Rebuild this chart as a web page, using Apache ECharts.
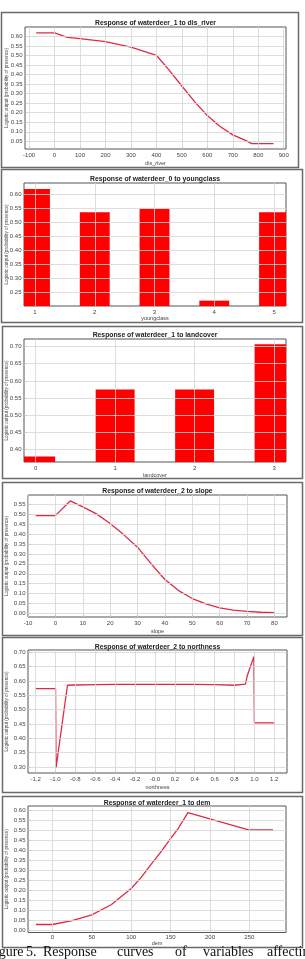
<!DOCTYPE html>
<html><head><meta charset="utf-8">
<script src="https://cdn.jsdelivr.net/npm/echarts@6/dist/echarts.min.js"></script>
<style>html,body{margin:0;padding:0;background:#fff}#c{width:305px;height:959px}</style>
</head><body><div id="c"></div>
<script>
// ---- data ----
const disRiverX = [-72, 0, 50, 100, 200, 300, 400, 450, 500, 550, 600, 650, 700, 750, 775, 860];
const disRiverY = [0.618, 0.618, 0.595, 0.588, 0.572, 0.543, 0.501, 0.423, 0.34, 0.258, 0.185, 0.128, 0.084, 0.055, 0.038, 0.038];
const disRiverTicksX = [-100, 0, 100, 200, 300, 400, 500, 600, 700, 800, 900];
const disRiverTicksY = [0.05, 0.10, 0.15, 0.20, 0.25, 0.30, 0.35, 0.40, 0.45, 0.50, 0.55, 0.60];

const youngclassX = [1, 2, 3, 4, 5];
const youngclassY = [0.618, 0.535, 0.548, 0.222, 0.535];
const youngclassTicksY = [0.25, 0.30, 0.35, 0.40, 0.45, 0.50, 0.55, 0.60];

const landcoverX = [0, 1, 2, 3];
const landcoverY = [0.380, 0.575, 0.575, 0.707];
const landcoverTicksY = [0.40, 0.45, 0.50, 0.55, 0.60, 0.65, 0.70];

const slopeX = [-7.2, 0, 5.4, 10, 15, 20, 25, 30, 35, 40, 45, 50, 55, 60, 65, 70, 75, 80];
const slopeY = [0.493, 0.493, 0.567, 0.537, 0.502, 0.453, 0.396, 0.334, 0.25, 0.171, 0.115, 0.075, 0.048, 0.028, 0.017, 0.010, 0.006, 0.004];
const slopeTicksX = [-10, 0, 10, 20, 30, 40, 50, 60, 70, 80];
const slopeTicksY = [0.00, 0.05, 0.10, 0.15, 0.20, 0.25, 0.30, 0.35, 0.40, 0.45, 0.50, 0.55];

const northX = [-1.2, -1.0, -0.995, -0.88, -0.8, -0.6, -0.4, -0.2, 0.0, 0.2, 0.4, 0.6, 0.8, 0.91, 0.93, 0.995, 1.0, 1.2];
const northY = [0.573, 0.573, 0.297, 0.585, 0.586, 0.587, 0.588, 0.588, 0.588, 0.588, 0.588, 0.587, 0.585, 0.589, 0.62, 0.685, 0.454, 0.454];
const northTicksX = [-1.2, -1.0, -0.8, -0.6, -0.4, -0.2, 0.0, 0.2, 0.4, 0.6, 0.8, 1.0, 1.2];
const northTicksLabel = ['-1.2', '-1.0', '-0.8', '-0.6', '-0.4', '-0.2', '-0.0', '0.2', '0.4', '0.6', '0.8', '1.0', '1.2'];
const northTicksY = [0.30, 0.35, 0.40, 0.45, 0.50, 0.55, 0.60, 0.65, 0.70];

const demX = [-21, 0, 25, 50, 75, 100, 112.5, 125, 137.5, 150, 160, 172, 250, 280];
const demY = [0.028, 0.028, 0.047, 0.076, 0.128, 0.208, 0.262, 0.327, 0.39, 0.457, 0.51, 0.587, 0.50, 0.50];
const demTicksX = [0, 50, 100, 150, 200, 250];
const demTicksY = [0.00, 0.05, 0.10, 0.15, 0.20, 0.25, 0.30, 0.35, 0.40, 0.45, 0.50, 0.55, 0.60];

const titles = ['Response of waterdeer_1 to dis_river', 'Response of waterdeer_0 to youngclass', 'Response of waterdeer_1 to landcover', 'Response of waterdeer_2 to slope', 'Response of waterdeer_2 to northness', 'Response of waterdeer_1 to dem'];
const xNames = ['dis_river', 'youngclass', 'landcover', 'slope', 'northness', 'dem'];
const yName = 'Logistic output (probability of presence)';
const captionWords = ['Figure', '5.', 'Response', 'curves', 'of', 'variables', 'affecting'];

// ---- layout ----
const FONT = '"Liberation Sans", Arial, sans-serif';
const LINE = '#dc2b45';
const BAR = '#ff0000';
const GRIDC = '#d6d6d6';
const panels = [
  { grid: [25, 27, 261, 122], xr: [-116, 909], yr: [0.010, 0.649], xt: disRiverTicksX, yt: disRiverTicksY, kind: 'line', xs: disRiverX, ys: disRiverY, frame: [1, 12, 298, 167], titleY: 22.7, xnameY: 163.3, xfmt: v => String(Math.round(v)) },
  { grid: [24, 183, 262, 123], xr: [0.816, 5.2], yr: [0.203, 0.639], xt: youngclassX, yt: youngclassTicksY, kind: 'bar', hw: 0.25, xs: youngclassX, ys: youngclassY, frame: [1, 169, 302, 322], titleY: 179, xnameY: 318.5, xfmt: v => String(Math.round(v)) },
  { grid: [24, 339, 262, 123], xr: [-0.147, 3.15], yr: [0.364, 0.722], xt: landcoverX, yt: landcoverTicksY, kind: 'bar', hw: 0.245, xs: landcoverX, ys: landcoverY, frame: [2, 326, 302, 478], titleY: 335, xnameY: 475, xfmt: v => String(Math.round(v)) },
  { grid: [28, 495, 259, 122], xr: [-10, 84.6], yr: [-0.018, 0.597], xt: slopeTicksX, yt: slopeTicksY, kind: 'line', xs: slopeX, ys: slopeY, frame: [2, 482, 302, 635], titleY: 491, xnameY: 631, xfmt: v => String(Math.round(v)) },
  { grid: [28, 650, 259, 123], xr: [-1.277, 1.328], yr: [0.279, 0.708], xt: northTicksX, yt: northTicksY, kind: 'line', xs: northX, ys: northY, frame: [2, 637, 302, 792], titleY: 647, xnameY: 787, xfmt: v => { const i = northTicksX.findIndex(t => Math.abs(t - v) < 1e-6); return i >= 0 ? northTicksLabel[i] : v.toFixed(1); } },
  { grid: [28, 806, 258, 126.5], xr: [-31, 296.5], yr: [-0.012, 0.62], xt: demTicksX, yt: demTicksY, kind: 'line', xs: demX, ys: demY, frame: [2, 796, 302, 947], titleY: 803, xnameY: 943, xfmt: v => String(Math.round(v)) }
];

const grids = [], xAxes = [], yAxes = [], series = [], graphics = [];
panels.forEach((p, i) => {
  const [l, t, w, h] = p.grid;
  grids.push({ left: l, top: t, width: w, height: h, show: true, borderColor: '#555', borderWidth: 1, backgroundColor: '#fff', z: 0 });
  xAxes.push({
    type: 'value', gridIndex: i, min: p.xr[0], max: p.xr[1],
    axisLine: { show: false, onZero: false },
    axisTick: { show: true, inside: true, length: 2.5, customValues: p.xt, lineStyle: { color: '#666', width: 0.8 } },
    axisLabel: { customValues: p.xt, fontSize: 6, color: '#444', fontFamily: FONT, margin: i === 5 ? 2 : 3.5, formatter: p.xfmt },
    splitLine: { show: false }
  });
  yAxes.push({
    type: 'value', gridIndex: i, min: p.yr[0], max: p.yr[1],
    axisLine: { show: false, onZero: false },
    axisTick: { show: true, inside: true, length: 2.5, customValues: p.yt, lineStyle: { color: '#666', width: 0.8 } },
    axisLabel: { customValues: p.yt, fontSize: 6, color: '#444', fontFamily: FONT, margin: 2.5, formatter: v => v.toFixed(2) },
    splitLine: { show: false }
  });
  // grid lines at tick values, drawn through the axes' scales
  series.push({
    type: 'line', xAxisIndex: i, yAxisIndex: i, data: [[p.xr[0], p.yr[0]]], symbol: 'none', showSymbol: false,
    lineStyle: { width: 0 }, silent: true, z: 1,
    markLine: {
      silent: true, symbol: 'none', animation: false, label: { show: false },
      lineStyle: { color: GRIDC, width: 0.8, type: 'solid' }, emphasis: { disabled: true },
      data: p.xt.map(v => ({ xAxis: v })).concat(p.yt.map(v => ({ yAxis: v })))
    }
  });
  const data = p.xs.map((x, k) => [x, p.ys[k]]);
  if (p.kind === 'line') {
    series.push({ type: 'line', xAxisIndex: i, yAxisIndex: i, data, symbol: 'none', lineStyle: { color: LINE, width: 1.3 }, clip: true, z: 3 });
  } else {
    const hw = p.hw, base = p.yr[0];
    series.push({
      type: 'custom', xAxisIndex: i, yAxisIndex: i, data, z: 3,
      renderItem: (params, api) => {
        const x = api.value(0), y = api.value(1);
        const a = api.coord([x - hw, y]);
        const b = api.coord([x + hw, base]);
        const cs = params.coordSys;
        const r = echarts.graphic.clipRectByRect(
          { x: a[0], y: a[1], width: b[0] - a[0], height: b[1] - a[1] },
          { x: cs.x, y: cs.y, width: cs.width, height: cs.height });
        return r && { type: 'rect', shape: r, style: { fill: BAR } };
      }
    });
  }
  const [fx1, fy1, fx2, fy2] = p.frame;
  graphics.push({ type: 'rect', shape: { x: fx1 + 0.5, y: fy1 + 0.5, width: fx2 - fx1, height: fy2 - fy1 }, style: { fill: 'none', stroke: '#6a6a6a', lineWidth: 1.5 }, z: 1, silent: true });
  const cx = l + w / 2;
  graphics.push({ type: 'text', x: cx, y: p.titleY, style: { text: titles[i], font: 'bold 6.8px ' + FONT, fill: '#222', textAlign: 'center', textVerticalAlign: 'middle' }, z: 5 });
  graphics.push({ type: 'text', x: cx, y: p.xnameY, style: { text: xNames[i], font: '5.5px ' + FONT, fill: '#444', textAlign: 'center', textVerticalAlign: 'middle' }, z: 5 });
  graphics.push({ type: 'text', x: 6.5, y: t + h / 2, rotation: Math.PI / 2, style: { text: yName, font: '4.6px ' + FONT, fill: '#444', textAlign: 'center', textVerticalAlign: 'middle' }, z: 5 });
});

// caption (cut off at bottom of image)
const capX = [-13, 26, 43, 117, 175, 203, 267];
captionWords.forEach((wd, k) => {
  graphics.push({ type: 'text', x: capX[k], y: 952.5, style: { text: wd, font: '14px "Liberation Serif", "DejaVu Serif", serif', fill: '#111', textAlign: 'left', textVerticalAlign: 'middle' }, z: 5 });
});

const chart = echarts.init(document.getElementById('c'), null, { renderer: 'canvas', width: 305, height: 959 });
chart.setOption({ animation: false, backgroundColor: '#fff', grid: grids, xAxis: xAxes, yAxis: yAxes, series, graphic: graphics });
</script></body></html>
